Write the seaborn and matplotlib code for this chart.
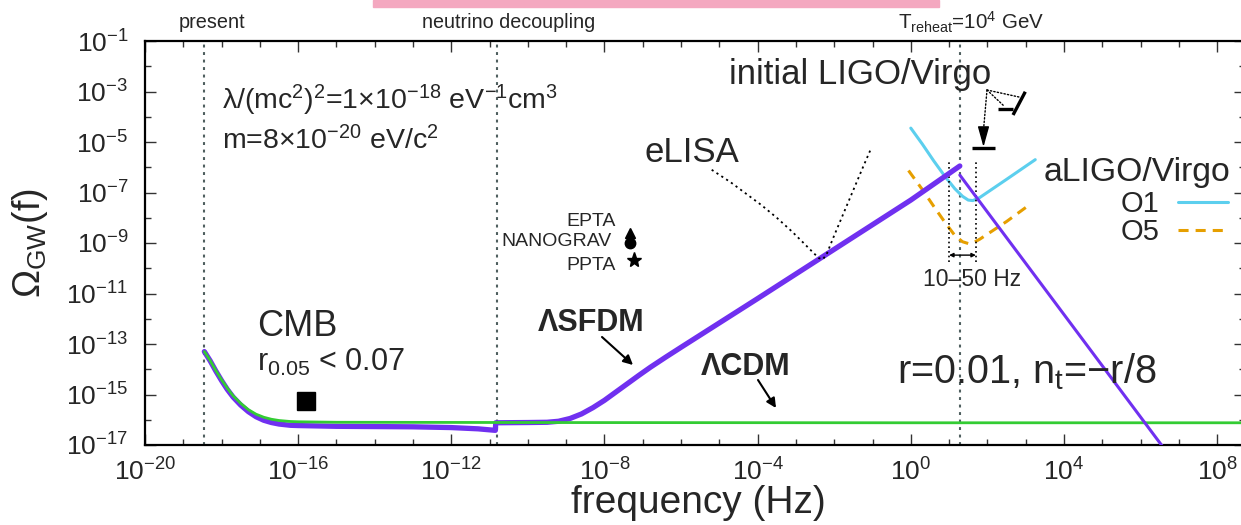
import numpy as np
import pandas as pd
import matplotlib
matplotlib.use('Agg')
import matplotlib.pyplot as plt
import seaborn as sns
from matplotlib.patches import Rectangle
from matplotlib.ticker import FixedLocator, FixedFormatter, NullFormatter

# ---------------------------------------------------------------
# DATA  (log10 values)
# ---------------------------------------------------------------
# Lambda-CDM (green)
lcdm_logf = [-18.45, -18.3, -18.15, -18.0, -17.85, -17.7, -17.5, -17.3, -17.1, -16.9, -16.7, -16.5,
             -16.2, -16.0, -15.0, -10.0, 0.0, 8.8]
lcdm_logo = [-13.3, -13.65, -14.05, -14.42, -14.75, -15.05, -15.35, -15.6, -15.78, -15.9, -15.98, -16.03,
             -16.07, -16.08, -16.1, -16.11, -16.12, -16.12]

# Lambda-SFDM (purple, thick part up to the reheating peak)
sfdm_logf = [-18.45, -18.3, -18.15, -18.0, -17.85, -17.7, -17.5, -17.3, -17.1, -16.9, -16.7, -16.5,
             -16.2, -16.0, -15.0, -13.0, -12.0, -11.3, -10.85, -10.84, -10.0, -9.5, -9.2, -8.9,
             -8.6, -8.3, -8.0, -7.7, -7.4, -7.1, -6.8, -6.4, -6.0, -4.0, -2.0, 0.0, 1.28]
sfdm_logo = [-13.3, -13.66, -14.07, -14.45, -14.8, -15.1, -15.42, -15.68, -15.88, -16.02, -16.11, -16.17,
             -16.22, -16.23, -16.26, -16.28, -16.31, -16.36, -16.42, -16.12, -16.11, -16.1, -16.06, -15.95,
             -15.77, -15.52, -15.23, -14.9, -14.57, -14.24, -13.92, -13.52, -13.13, -11.2, -9.25, -7.3, -5.95]
# Lambda-SFDM after reheating (thin purple)
sfdm_hi_logf = [1.28, 6.62]
sfdm_hi_logo = [-6.31, -17.15]

# aLIGO/Virgo sensitivity curves
o1_logf = [0.0, 0.3, 0.6, 0.9, 1.15, 1.35, 1.5, 1.62, 1.8, 2.5, 3.25]
o1_logo = [-4.45, -5.08, -5.75, -6.38, -6.85, -7.15, -7.3, -7.32, -7.2, -6.48, -5.7]
o5_logf = [-0.06, 0.3, 0.6, 0.9, 1.15, 1.35, 1.5, 1.62, 1.8, 2.5, 3.15]
o5_logo = [-6.13, -6.88, -7.55, -8.2, -8.7, -8.95, -9.02, -9.0, -8.85, -8.15, -7.43]

# eLISA sensitivity (dotted)
elisa_logf = [-5.2, -4.7, -4.3, -3.9, -3.5, -3.1, -2.8, -2.55, -2.4, -2.3, -2.2, -2.0, -1.75, -1.5, -1.25, -1.05]
elisa_logo = [-6.1, -6.6, -7.05, -7.5, -8.0, -8.55, -9.0, -9.38, -9.6, -9.65, -9.45, -8.7, -7.8, -6.9, -6.0, -5.3]

# pulsar timing arrays
pta_names = ['EPTA', 'NANOGRAV', 'PPTA']
pta_logf = [-7.33, -7.33, -7.23]
pta_logo = [-8.59, -9.01, -9.67]
pta_marks = ['^', 'o', '*']

# CMB bound r_0.05 < 0.07
cmb_logf = [-15.8]
cmb_logo = [-15.24]

# initial LIGO/Virgo upper limits (bars)
ilv_bar_logf = [1.60, 2.19]
ilv_bar_logo = [-5.25, -5.25]
ilv_tilt_logf = [2.99, 2.67]
ilv_tilt_logo = [-3.01, -3.93]
ilv_stub_logf = [2.29, 2.67]
ilv_stub_logo = [-3.70, -3.70]

# 10-50 Hz band
band_f = [10, 50]
band_logo_top = -5.8
band_logo_bot = -9.75
band_logo_arrow = -9.48

# epochs (vertical dotted lines)
epoch_logf = [-18.45, -10.8, 1.28]

x_major = list(range(-20, 9, 4))
y_major = list(range(-17, 0, 2))

# ---------------------------------------------------------------
# STYLE
# ---------------------------------------------------------------
sns.set_theme(style='ticks')
plt.rcParams['font.family'] = ['Liberation Sans', 'DejaVu Sans']
plt.rcParams['mathtext.fontset'] = 'custom'
plt.rcParams['mathtext.rm'] = 'Liberation Sans'
plt.rcParams['mathtext.it'] = 'Liberation Sans:italic'
plt.rcParams['mathtext.bf'] = 'Liberation Sans:bold'
plt.rcParams['mathtext.default'] = 'regular'

W, H = 1241, 525
PX = 38.29   # pixels per x decade

fig = plt.figure(figsize=(W / 100, H / 100), dpi=100)
ax = fig.add_axes([145 / W, 80 / H, 1100 / W, 404 / H])
ax.set_xscale('log')
ax.set_yscale('log')


def fp(x, y):
    """figure pixel (from top-left) -> figure fraction"""
    return (x / W, 1 - y / H)


def curve(lf, lo):
    return pd.DataFrame({'f': np.power(10.0, lf), 'omega': np.power(10.0, lo)})


PURPLE = '#7030f0'
GREEN = '#33cc33'
BLUE = '#5ccfee'
ORANGE = '#e69f00'
VGREY = '#4f5f5f'

# epoch lines
for lf in epoch_logf:
    ax.axvline(10 ** lf, color=VGREY, lw=1.5, ls=(0, (1.4, 2.2)), zorder=1)

# model curves
d = curve(sfdm_logf, sfdm_logo)
sns.lineplot(data=d, x='f', y='omega', ax=ax, sort=False, estimator=None,
             color=PURPLE, lw=3.8, zorder=3)
d = curve(lcdm_logf, lcdm_logo)
sns.lineplot(data=d, x='f', y='omega', ax=ax, sort=False, estimator=None,
             color=GREEN, lw=2.0, zorder=4)
d = curve(sfdm_hi_logf, sfdm_hi_logo)
sns.lineplot(data=d, x='f', y='omega', ax=ax, sort=False, estimator=None,
             color=PURPLE, lw=2.2, zorder=5)

# detectors
d = curve(elisa_logf, elisa_logo)
sns.lineplot(data=d, x='f', y='omega', ax=ax, sort=False, estimator=None,
             color='black', lw=1.3, ls=(0, (1.2, 2.0)), zorder=4)
d = curve(o1_logf, o1_logo)
sns.lineplot(data=d, x='f', y='omega', ax=ax, sort=False, estimator=None,
             color=BLUE, lw=2.2, zorder=2, label='O1')
d = curve(o5_logf, o5_logo)
sns.lineplot(data=d, x='f', y='omega', ax=ax, sort=False, estimator=None,
             color=ORANGE, lw=2.2, ls=(0, (3.3, 2.3)), zorder=2, label='O5')

# PTA markers
for lf, lo, m in zip(pta_logf, pta_logo, pta_marks):
    ax.plot(10 ** lf, 10 ** lo, marker=m, color='black', ms=11 if m == '*' else 7.5, ls='none', zorder=6)

# CMB square
ax.plot(np.power(10.0, cmb_logf), np.power(10.0, cmb_logo), marker='s', color='black', ms=13, ls='none')

# initial LIGO/Virgo limit bars
for lf, lo in [(ilv_bar_logf, ilv_bar_logo), (ilv_tilt_logf, ilv_tilt_logo), (ilv_stub_logf, ilv_stub_logo)]:
    ax.plot(np.power(10.0, lf), np.power(10.0, lo), color='black', lw=2.4, solid_capstyle='butt')

# 10-50 Hz band
for f in band_f:
    ax.plot([f, f], [10 ** band_logo_bot, 10 ** band_logo_top], color='black', lw=1.2, ls=(0, (1, 1.8)))
ax.annotate('', xy=(band_f[0], 10 ** band_logo_arrow), xytext=(band_f[1], 10 ** band_logo_arrow),
            arrowprops=dict(arrowstyle='<|-|>', lw=1.0, color='black', mutation_scale=6, shrinkA=0, shrinkB=0))

# ---------------------------------------------------------------
# AXES
# ---------------------------------------------------------------
ax.set_xlim(1e-20, 10 ** (-20 + 1100 / PX))
ax.set_ylim(1e-17, 1e-1)
ax.xaxis.set_major_locator(FixedLocator([10.0 ** k for k in x_major]))
ax.xaxis.set_major_formatter(FixedFormatter([f'$10^{{{k}}}$' for k in x_major]))
ax.xaxis.set_minor_locator(FixedLocator([10.0 ** k for k in range(-20, 9) if k not in x_major]))
ax.xaxis.set_minor_formatter(NullFormatter())
ax.yaxis.set_major_locator(FixedLocator([10.0 ** k for k in y_major]))
ax.yaxis.set_major_formatter(FixedFormatter([f'$10^{{{k}}}$' for k in y_major]))
ax.yaxis.set_minor_locator(FixedLocator([10.0 ** k for k in range(-16, 0, 2)]))
ax.yaxis.set_minor_formatter(NullFormatter())
ax.tick_params(which='both', direction='in', top=True, right=True, width=1.0, color='#333333')
ax.tick_params(which='major', length=8, labelsize=19)
ax.tick_params(which='minor', length=4.5)
ax.tick_params(axis='y', pad=12)
ax.tick_params(axis='x', pad=10)
for s in ax.spines.values():
    s.set_linewidth(1.6)
    s.set_color('black')

ax.set_xlabel('frequency (Hz)', fontsize=28)
ax.xaxis.set_label_coords(0.5027, -0.1)
ax.set_ylabel('Ω$_{\\rm GW}$(f)', fontsize=27)
ax.yaxis.set_label_coords(-0.086, 0.5)

# legend (aLIGO/Virgo)
leg = ax.legend(loc='upper right', bbox_to_anchor=fp(1228, 190), bbox_transform=fig.transFigure,
                markerfirst=False, frameon=False, fontsize=21, handlelength=1.7,
                handletextpad=0.65, labelspacing=0.0, borderpad=0, borderaxespad=0)
fig.text(*fp(1044, 172), 'aLIGO/Virgo', fontsize=24.3, ha='left', va='center')

# ---------------------------------------------------------------
# ANNOTATIONS
# ---------------------------------------------------------------
fig.patches.append(Rectangle(fp(373, 7), (939 - 373) / W, 7 / H, transform=fig.transFigure,
                             color='#f4a8c0', zorder=0))
fig.text(*fp(212, 22), 'present', fontsize=14.3, ha='center', va='center')
fig.text(*fp(509, 22), 'neutrino decoupling', fontsize=14.2, ha='center', va='center')
fig.text(*fp(971, 22), 'T$_{\\rm reheat}$=10$^4$ GeV', fontsize=14.8, ha='center', va='center')

fig.text(*fp(222, 100), 'λ/(mc$^2$)$^2$=1×10$^{-18}$ eV$^{-1}$cm$^3$', fontsize=20.5, ha='left', va='center')
fig.text(*fp(222, 141), 'm=8×10$^{-20}$ eV/c$^2$', fontsize=20.5, ha='left', va='center')

fig.text(*fp(860, 75), 'initial LIGO/Virgo', fontsize=25, ha='center', va='center')
fig.text(*fp(692, 152), 'eLISA', fontsize=25, ha='center', va='center')
fig.text(*fp(972, 280), '10–50 Hz', fontsize=16.5, ha='center', va='center')

fig.text(*fp(616, 222), 'EPTA', fontsize=14, ha='right', va='center')
fig.text(*fp(612, 242), 'NANOGRAV', fontsize=14, ha='right', va='center')
fig.text(*fp(616, 266), 'PPTA', fontsize=14, ha='right', va='center')

fig.text(*fp(257, 326), 'CMB', fontsize=26, ha='left', va='center')
fig.text(*fp(257, 362), 'r$_{0.05}$ < 0.07', fontsize=22, ha='left', va='center')

fig.text(*fp(591, 323), 'ΛSFDM', fontsize=22, fontweight='bold', ha='center', va='center')
fig.text(*fp(746, 367), 'ΛCDM', fontsize=22, fontweight='bold', ha='center', va='center')
fig.text(*fp(897, 372), 'r=0.01, n$_{\\rm t}$=−r/8', fontsize=28.5, ha='left', va='center')

arrow = dict(arrowstyle='-|>', lw=1.5, color='black', mutation_scale=14, shrinkA=0, shrinkB=0)
ax.annotate('', xy=fp(633, 365), xytext=fp(602, 337), xycoords='figure fraction', arrowprops=arrow)
ax.annotate('', xy=fp(776, 408), xytext=fp(758, 380), xycoords='figure fraction', arrowprops=arrow)

# dotted pointers from "initial LIGO/Virgo"
dot = dict(arrowstyle='-', lw=1.0, color='black', ls=(0, (1, 1.5)), shrinkA=0, shrinkB=0)
for end in [(983.5, 130), (1019, 97), (1004, 106)]:
    ax.annotate('', xy=fp(*end), xytext=fp(987, 90), xycoords='figure fraction', arrowprops=dot)
head = dict(arrowstyle='-|>,head_length=0.9,head_width=0.25', lw=1.0, color='black',
            mutation_scale=14, shrinkA=0, shrinkB=0)
ax.annotate('', xy=fp(983.5, 147), xytext=fp(983.5, 128), xycoords='figure fraction', arrowprops=head)

fig.savefig('out.png', dpi=100)
